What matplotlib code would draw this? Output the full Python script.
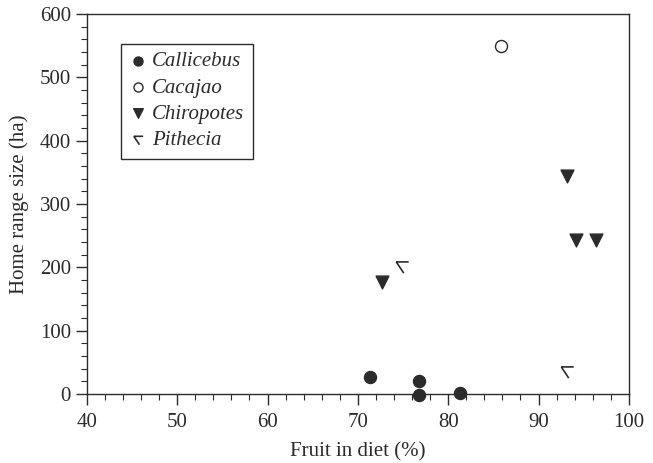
import matplotlib
matplotlib.use('Agg')
import matplotlib.pyplot as plt
from matplotlib.path import Path

plt.rcParams['font.family'] = ['Liberation Serif', 'DejaVu Serif']

# 資料（由圖片估計）
callicebus_x = [71.3, 76.8, 76.8, 81.3]
callicebus_y = [27, 20, -2, 2]
cacajao_x = [85.8]
cacajao_y = [550]
chiropotes_x = [72.7, 93.1, 94.2, 96.4]
chiropotes_y = [177, 344, 243, 243]
pithecia_x = [74.9, 93.1]
pithecia_y = [200, 35]

ink = '#2b2b2b'

# Pithecia 的符號：上方橫線 + 斜線
pith_marker = Path([(-0.5, 0.45), (0.5, 0.45), (-0.5, 0.45), (0.1, -0.45)],
                   [Path.MOVETO, Path.LINETO, Path.MOVETO, Path.LINETO])

fig = plt.figure(figsize=(6.53, 4.63), dpi=100)
ax = fig.add_axes([0.133, 0.149, 0.830, 0.821])

ax.scatter(callicebus_x, callicebus_y, s=75, color=ink, marker='o', label='Callicebus',
           zorder=3, clip_on=False)
ax.scatter(cacajao_x, cacajao_y, s=75, facecolor='white', edgecolor=ink, linewidth=1.0,
           marker='o', label='Cacajao', zorder=3, clip_on=False)
ax.scatter(chiropotes_x, chiropotes_y, s=85, color=ink, marker='v', label='Chiropotes',
           zorder=3, clip_on=False)
ax.scatter(pithecia_x, pithecia_y, s=80, color=ink, marker=pith_marker, linewidth=1.2,
           label='Pithecia', zorder=3, clip_on=False)

ax.set_xlim(40, 100)
ax.set_ylim(0, 600)
ax.set_xticks(range(40, 101, 10))
ax.set_xticks(range(40, 101, 2), minor=True)
ax.set_yticks(range(0, 601, 100))
ax.set_yticks(range(0, 601, 20), minor=True)
ax.tick_params(which='major', direction='out', length=8, width=1, labelsize=15, colors=ink)
ax.tick_params(axis='x', which='major', pad=6)
ax.tick_params(which='minor', direction='out', length=4, width=0.8, colors=ink)
for sp in ax.spines.values():
    sp.set_color(ink)
    sp.set_linewidth(1.0)

ax.set_xlabel('Fruit in diet (%)', fontsize=15, color=ink, labelpad=7)
ax.set_ylabel('Home range size (ha)', fontsize=15, color=ink, labelpad=8)

leg = ax.legend(loc='upper left', bbox_to_anchor=(0.063, 0.922), fancybox=False,
                edgecolor=ink, framealpha=1, prop={'style': 'italic', 'size': 15},
                handletextpad=0.3, handlelength=0.8, borderpad=0.4, labelspacing=0.32,
                scatterpoints=1, markerscale=0.75, borderaxespad=0)
leg.get_frame().set_linewidth(1.0)
for t in leg.get_texts():
    t.set_color(ink)

plt.savefig('out.png', dpi=100)
